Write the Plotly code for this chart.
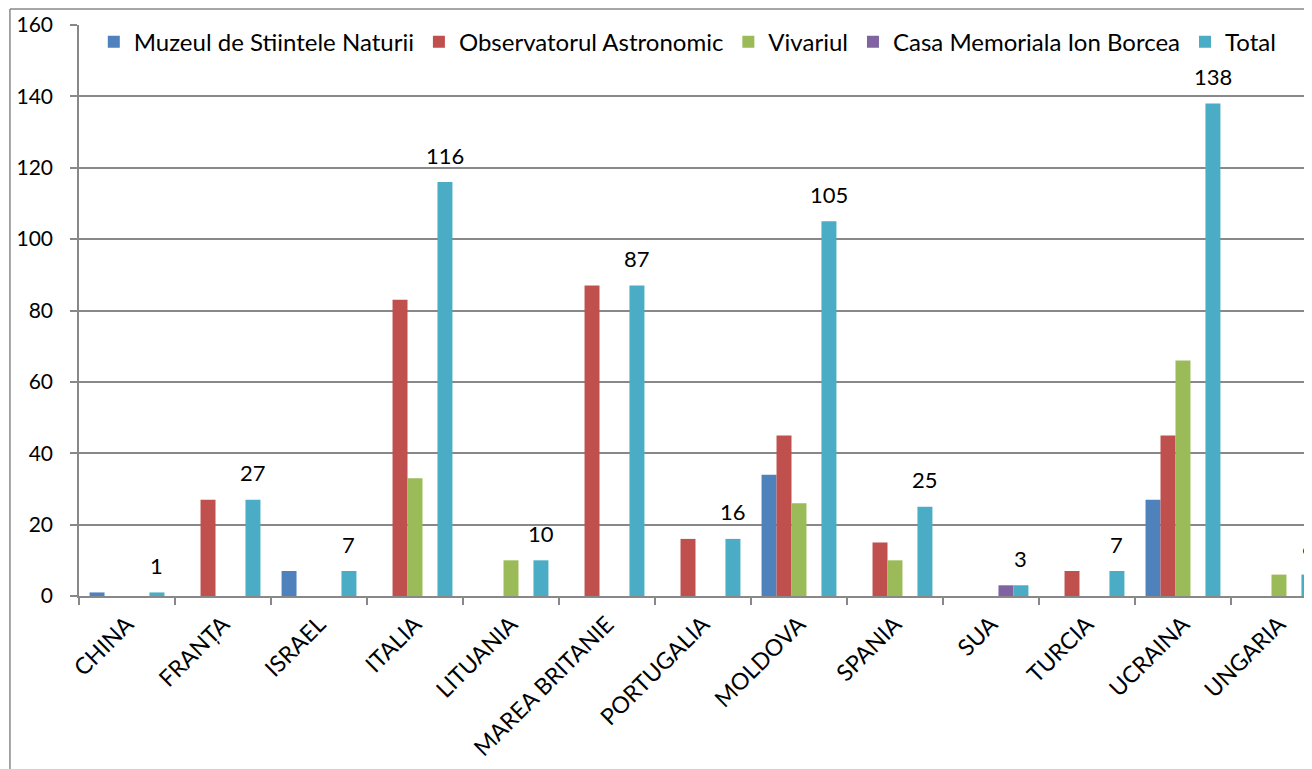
import plotly.graph_objects as go

categories = ["CHINA", "FRANȚA", "ISRAEL", "ITALIA", "LITUANIA", "MAREA BRITANIE",
              "PORTUGALIA", "MOLDOVA", "SPANIA", "SUA", "TURCIA", "UCRAINA", "UNGARIA"]
muzeul = [1, 0, 7, 0, 0, 0, 0, 34, 0, 0, 0, 27, 0]
observator = [0, 27, 0, 83, 0, 87, 16, 45, 15, 0, 7, 45, 0]
vivariul = [0, 0, 0, 33, 10, 0, 0, 26, 10, 0, 0, 66, 6]
casa = [0, 0, 0, 0, 0, 0, 0, 0, 0, 3, 0, 0, 0]
total = [1, 27, 7, 116, 10, 87, 16, 105, 25, 3, 7, 138, 6]

series = [
    ("Muzeul de Stiintele Naturii", muzeul, "#4F81BD"),
    ("Observatorul Astronomic", observator, "#C0504D"),
    ("Vivariul", vivariul, "#9BBB59"),
    ("Casa Memoriala Ion Borcea", casa, "#8064A2"),
    ("Total", total, "#4BACC6"),
]

FONT = "Lato, Open Sans, sans-serif"
GRID = "#888888"
BARGAP = 0.22

fig = go.Figure()
for name, vals, color in series:
    fig.add_trace(go.Bar(name=name, x=categories, y=vals,
                         marker=dict(color=color, line=dict(width=0))))

# data labels on Total series
nser = len(series)
w = (1 - BARGAP) / nser
for i, v in enumerate(total):
    fig.add_annotation(x=i + 2 * w, y=v, xref="x", yref="y", text=str(v),
                       showarrow=False, yanchor="middle", yshift=27,
                       font=dict(size=22, color="black", family=FONT))

# chart-area border (left and top)
fig.add_shape(type="line", xref="paper", yref="paper", x0=-0.056, x1=-0.056,
              y0=-0.5, y1=1.028, line=dict(color=GRID, width=1.5))
fig.add_shape(type="line", xref="paper", yref="paper", x0=-0.056, x1=1.2,
              y0=1.028, y1=1.028, line=dict(color=GRID, width=1.5))

fig.update_layout(
    width=1304, height=761,
    margin=dict(l=71, r=0, t=17, b=173, autoexpand=False),
    paper_bgcolor="white", plot_bgcolor="white",
    barmode="group", bargap=BARGAP, bargroupgap=0,
    font=dict(family=FONT, size=21, color="black"),
    showlegend=True,
    legend=dict(orientation="h", x=0.012, xanchor="left", y=0.970, yanchor="middle",
                font=dict(size=24), bgcolor="rgba(0,0,0,0)", traceorder="normal"),
)
fig.update_xaxes(range=[-0.5, 12.344], showline=True, linecolor=GRID, linewidth=1.5,
                 ticks="outside", ticklen=7, tickcolor=GRID, tickwidth=1.5,
                 tickson="boundaries", tickangle=-45, showgrid=False, automargin=False,
                 tickfont=dict(size=23, family=FONT), ticklabelstandoff=4)
fig.update_yaxes(range=[0, 160], dtick=20, showline=True, linecolor=GRID, linewidth=1.5,
                 ticks="outside", ticklen=7, tickcolor=GRID, tickwidth=1.5, automargin=False,
                 showgrid=True, gridcolor=GRID, gridwidth=1.5, zeroline=False,
                 tickfont=dict(size=21, family=FONT), ticklabelstandoff=13)

fig.write_html("out.html")
